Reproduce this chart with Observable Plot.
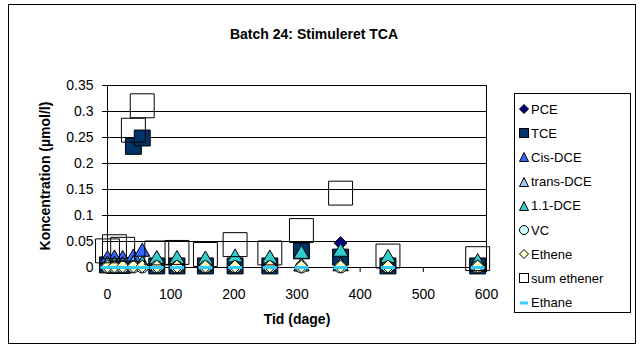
<!DOCTYPE html>
<html>
<head>
<meta charset="utf-8">
<script src="https://cdn.jsdelivr.net/npm/d3@7"></script>
<script src="https://cdn.jsdelivr.net/npm/@observablehq/plot@0.6"></script>
<style>
  html, body { margin: 0; padding: 0; background: #fff; }
  #chart { position: relative; width: 642px; height: 350px; font-family: "Liberation Sans", Arial, sans-serif; color: #000; }
  #border { position: absolute; left: 8px; top: 4px; width: 628px; height: 340px; border: 1px solid #000; box-sizing: border-box; }
  #title { position: absolute; left: 8px; width: 612px; top: 26px; text-align: center; font-weight: bold; font-size: 14px; }
  #ylabel { position: absolute; left: 45px; top: 176px; transform: translate(-50%, -50%) rotate(-90deg); white-space: nowrap; font-weight: bold; font-size: 14px; }
  #xlabel { position: absolute; left: 297px; top: 311px; transform: translateX(-50%); white-space: nowrap; font-weight: bold; font-size: 14px; }
  #plot { position: absolute; left: 0; top: 0; }
  #legend { position: absolute; left: 514px; top: 93px; width: 117px; height: 220px; border: 1px solid #000; box-sizing: border-box; background: #fff; }
  .item { position: absolute; left: 4px; height: 16px; display: flex; align-items: center; font-size: 13px; white-space: nowrap; }
  .item svg { margin-right: 2px; }
</style>
</head>
<body>
<div id="chart">
  <div id="border"></div>
  <div id="title">Batch 24: Stimuleret TCA</div>
  <div id="plot"></div>
  <div id="ylabel">Koncentration (µmol/l)</div>
  <div id="xlabel">Tid (dage)</div>
  <div id="legend"></div>
</div>
<script>
// Time (days)
const days = [0, 11, 24, 41, 55, 78, 110, 155, 202, 257, 307, 369, 444, 586];
// Concentrations (µmol/l)
const pce      = [0.003, 0.002, 0.002, 0.002, 0.002, 0.001, 0.001, 0.001, 0.001, 0.001, 0.002, 0.047, 0.001, 0.001];
const tce      = [0.005, 0.004, 0.004, 0.233, 0.249, 0.003, 0.003, 0.003, 0.003, 0.003, 0.032, 0.020, 0.003, 0.003];
const cisDce   = [0.016, 0.017, 0.016, 0.019, 0.030, 0.004, 0.003, 0.002, 0.002, 0.002, 0.002, 0.003, 0.002, 0.002];
const transDce = [0.004, 0.004, 0.003, 0.006, 0.005, 0.003, 0.002, 0.002, 0.002, 0.002, 0.002, 0.002, 0.002, 0.002];
const dce11    = [0.005, 0.005, 0.004, 0.006, 0.006, 0.016, 0.016, 0.015, 0.019, 0.017, 0.026, 0.030, 0.018, 0.010];
const vc       = [0.001, 0.001, 0.001, 0.001, 0.001, 0.001, 0.001, 0.001, 0.001, 0.001, 0.001, 0.001, 0.001, 0.001];
const ethene   = [0.002, 0.002, 0.002, 0.002, 0.002, 0.002, 0.002, 0.002, 0.002, 0.002, 0.002, 0.002, 0.002, 0.002];
const sumEth   = [0.032, 0.040, 0.035, 0.264, 0.311, 0.028, 0.029, 0.025, 0.044, 0.028, 0.071, 0.143, 0.022, 0.017];
const ethane   = [0, 0, 0, 0, 0, 0, 0, 0, 0, 0, 0, 0, 0, 0];

const seriesNames = ["PCE", "TCE", "Cis-DCE", "trans-DCE", "1.1-DCE", "VC", "Ethene", "sum ethener", "Ethane"];
const seriesValues = [pce, tce, cisDce, transDce, dce11, vc, ethene, sumEth, ethane];
const xTicks = [0, 100, 200, 300, 400, 500, 600];
const yTicks = [0, 0.05, 0.1, 0.15, 0.2, 0.25, 0.3, 0.35];

const dash = {
  draw(context, size) {
    const w = 7, h = 1.5;
    context.moveTo(-w, -h); context.lineTo(w, -h); context.lineTo(w, h); context.lineTo(-w, h); context.closePath();
  }
};

const styles = [
  {symbol: "diamond2", fill: "#000080", stroke: "#000", r: 5.8},
  {symbol: "square",   fill: "#003366", stroke: "#000", r: 9},
  {symbol: "triangle", fill: "#3366FF", stroke: "#000", r: 5.6},
  {symbol: "triangle", fill: "#99CCFF", stroke: "#000", r: 5.6},
  {symbol: "triangle", fill: "#33CCCC", stroke: "#000", r: 5.6},
  {symbol: "circle",   fill: "#CCFFFF", stroke: "#000", r: 6},
  {symbol: "diamond2", fill: "#FFFFCC", stroke: "#000", r: 5.8},
  {symbol: "square",   fill: "none",    stroke: "#000", r: 13.5},
  {symbol: dash,       fill: "#33CCFF", stroke: "none", r: 4}
];

const series = seriesNames.map((name, i) => ({
  name,
  data: days.map((d, j) => ({day: d, value: seriesValues[i][j]})),
  style: styles[i]
}));

const plot = Plot.plot({
  width: 642,
  height: 350,
  marginLeft: 107,
  marginRight: 156,
  marginTop: 85,
  marginBottom: 83,
  style: {fontFamily: "'Liberation Sans', Arial, sans-serif", fontSize: "14px", background: "transparent", overflow: "visible", color: "#000"},
  x: {domain: [0, 600]},
  y: {domain: [0, 0.35]},
  marks: [
    Plot.gridY(yTicks, {stroke: "#000", strokeOpacity: 1}),
    Plot.frame({stroke: "#000"}),
    Plot.axisY(yTicks, {tickSize: 5, tickPadding: 9, label: null, tickFormat: d => d === 0 ? "0" : String(+d.toFixed(2))}),
    Plot.axisX(xTicks, {tickSize: 5, tickPadding: 17, label: null}),
    ...series.map(s => Plot.dot(s.data, {
      x: "day", y: "value",
      symbol: () => s.style.symbol, r: s.style.r,
      fill: s.style.fill, stroke: s.style.stroke, strokeWidth: 1
    }))
  ]
});
document.getElementById("plot").appendChild(plot);

// Legend
const legend = document.getElementById("legend");
const legendMarks = [
  `<polygon points="5,0.5 9.5,5 5,9.5 0.5,5" fill="#000080" stroke="#000"/>`,
  `<rect x="0.5" y="0.5" width="9" height="9" fill="#003366" stroke="#000"/>`,
  `<polygon points="5,0.5 9.5,9.5 0.5,9.5" fill="#3366FF" stroke="#000"/>`,
  `<polygon points="5,0.5 9.5,9.5 0.5,9.5" fill="#99CCFF" stroke="#000"/>`,
  `<polygon points="5,0.5 9.5,9.5 0.5,9.5" fill="#33CCCC" stroke="#000"/>`,
  `<circle cx="5" cy="5" r="4.5" fill="#CCFFFF" stroke="#000"/>`,
  `<polygon points="5,0.5 9.5,5 5,9.5 0.5,5" fill="#FFFFCC" stroke="#000"/>`,
  `<rect x="0.5" y="0.5" width="9" height="9" fill="none" stroke="#000"/>`,
  `<rect x="1" y="3.5" width="8" height="3" fill="#33CCFF"/>`
];
seriesNames.forEach((name, i) => {
  const div = document.createElement("div");
  div.className = "item";
  div.style.top = (7 + i * 24.2) + "px";
  div.innerHTML = `<svg width="10" height="10" viewBox="0 0 10 10">${legendMarks[i]}</svg><span>${name}</span>`;
  legend.appendChild(div);
});
</script>
</body>
</html>
